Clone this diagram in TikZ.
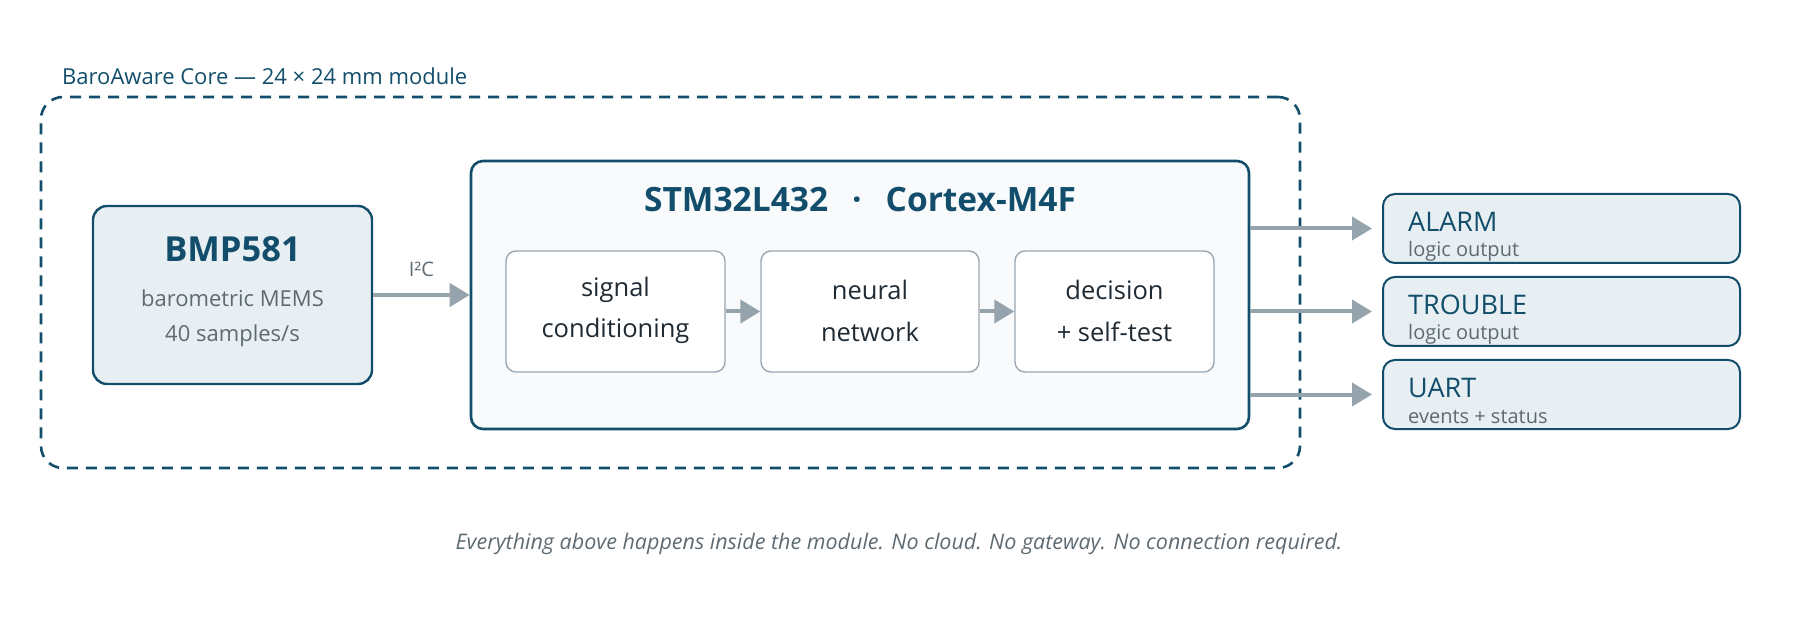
\documentclass[tikz,border=0pt]{standalone}
\usepackage{fontspec}
\setmainfont{Open Sans}
\usetikzlibrary{arrows.meta}
\definecolor{navy}{HTML}{124E6B}
\definecolor{lightfill}{HTML}{E8EFF3}
\definecolor{chipfill}{HTML}{F8FAFC}
\definecolor{arrowgray}{HTML}{95A3AD}
\definecolor{innerborder}{HTML}{9AA6B0}
\definecolor{subgray}{HTML}{5E6A72}
\definecolor{darktext}{HTML}{1F2A33}
\newcommand{\fs}[1]{\fontsize{#1}{#1}\selectfont}
\tikzset{
  modulebox/.style={draw=navy, line width=2.6pt, dash pattern=on 11pt off 8pt, rounded corners=22pt, minimum width=1259pt, minimum height=371pt, inner sep=0pt},
  sensorbox/.style={draw=navy, fill=lightfill, line width=2.4pt, rounded corners=14pt, minimum width=279pt, minimum height=178pt, inner sep=0pt},
  chipbox/.style={draw=navy, fill=chipfill, line width=2.6pt, rounded corners=12pt, minimum width=778pt, minimum height=268pt, inner sep=0pt},
  stagebox/.style={draw=innerborder, fill=white, line width=1.4pt, rounded corners=10pt, minimum height=121pt, inner sep=0pt},
  outbox/.style={draw=navy, fill=lightfill, line width=2pt, rounded corners=12pt, minimum width=357pt, minimum height=69pt, inner sep=0pt},
  flow/.style={draw=arrowgray, line width=4pt, -{Triangle[length=20pt,width=23pt]}},
  stagetext/.style={font=\fs{25.5}, text=darktext, align=center},
  outtitle/.style={font=\fs{27}, text=navy, anchor=base west, inner sep=0pt},
  outsub/.style={font=\fs{20}, text=subgray, anchor=base west, inner sep=0pt},
}
\begin{document}
\begin{tikzpicture}[x=1pt,y=-1pt]
\useasboundingbox (0,0) rectangle (1800,620);
% module frame
\node[modulebox] (module) at (670.5,282.5) {};
\node[font=\fs{22}, text=navy, anchor=base west, inner sep=0pt] (modtitle) at (62,85) {BaroAware Core — 24 × 24 mm module};
% sensor
\node[sensorbox] (bmp) at (232.5,295) {};
\node[font=\bfseries\fs{34.5}, text=navy, anchor=base, inner sep=0pt] (bmpname) at (232.5,262) {BMP581};
\node[font=\fs{22}, text=subgray, anchor=base, inner sep=0pt] (bmpsub1) at (232.5,307) {barometric MEMS};
\node[font=\fs{22}, text=subgray, anchor=base, inner sep=0pt] (bmpsub2) at (232.5,342) {40 samples/s};
% chip
\node[chipbox] (stm) at (860,295) {};
\node[font=\bfseries\fs{33.5}, text=navy, anchor=base, inner sep=0pt] (stmtitle) at (860,212) {STM32L432\hspace{24pt}·\hspace{24pt}Cortex-M4F};
\node[stagebox, minimum width=219pt] (s1) at (615.5,311.5) {};
\node[stagebox, minimum width=218pt] (s2) at (870,311.5) {};
\node[stagebox, minimum width=199pt] (s3) at (1114.5,311.5) {};
\node[stagetext, anchor=base, inner sep=0pt] (s1a) at (615.5,297) {signal};
\node[stagetext, anchor=base, inner sep=0pt] (s1b) at (615.5,338) {conditioning};
\node[stagetext, anchor=base, inner sep=0pt] (s2a) at (870,300) {neural};
\node[stagetext, anchor=base, inner sep=0pt] (s2b) at (870,342) {network};
\node[stagetext, anchor=base, inner sep=0pt] (s3a) at (1114.5,300) {decision};
\node[stagetext, anchor=base, inner sep=0pt] (s3b) at (1114.5,342) {+ self-test};
\draw[flow] (s1.east) -- (s2.west);
\draw[flow] (s2.east) -- (s3.west);
% bus
\draw[flow] (bmp.east) -- (stm.west |- bmp.east) node[midway, font=\fs{20}, text=subgray, anchor=base, inner sep=0pt, yshift=18pt] (i2c) {I²C};
% outputs
\node[outbox] (o1) at (1561.5,228.5) {};
\node[outbox] (o2) at (1561.5,311.5) {};
\node[outbox] (o3) at (1561.5,394.5) {};
\node[outtitle] (o1t) at (1408,231.5) {ALARM};
\node[outsub] (o1s) at (1408,257) {logic output};
\node[outtitle] (o2t) at (1408,314.5) {TROUBLE};
\node[outsub] (o2s) at (1408,340) {logic output};
\node[outtitle] (o3t) at (1408,397.5) {UART};
\node[outsub] (o3s) at (1408,423) {events + status};
\draw[flow, shorten >=10pt] (stm.east |- o1.west) -- (o1.west);
\draw[flow, shorten >=10pt] (stm.east |- o2.west) -- (o2.west);
\draw[flow, shorten >=10pt] (stm.east |- o3.west) -- (o3.west);
% footnote
\node[font=\itshape\fs{21.5}, text=subgray, anchor=base, inner sep=0pt] (note) at (899,549) {Everything above happens inside the module. No cloud. No gateway. No connection required.};
\end{tikzpicture}
\end{document}
